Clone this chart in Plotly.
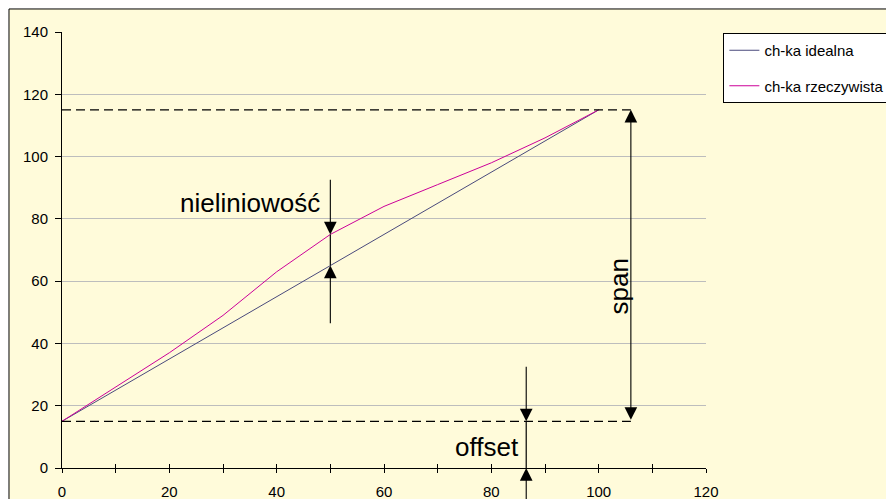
import plotly.graph_objects as go

# ---- data ----
x_vals = [0, 10, 20, 30, 40, 50, 60, 70, 80, 90, 100]
ideal = [15, 25, 35, 45, 55, 65, 75, 85, 95, 105, 115]
real = [15, 26, 37, 49, 63, 75, 84, 91, 98, 106, 115]
series_names = ["ch-ka idealna", "ch-ka rzeczywista"]
x_ticks = [0, 10, 20, 30, 40, 50, 60, 70, 80, 90, 100, 110, 120]
x_ticktext = ["0", "", "20", "", "40", "", "60", "", "80", "", "100", "", "120"]
y_ticks = [0, 20, 40, 60, 80, 100, 120, 140]

offset_val = ideal[0]
span_top = ideal[-1]
span_x = 106
offset_x = 86.5
nonlin_x = 50
nonlin_idx = x_vals.index(nonlin_x)

FONT = "Arial, Liberation Sans, sans-serif"
CREAM = "#FFFBDA"

fig = go.Figure()
fig.add_trace(go.Scatter(x=x_vals, y=ideal, mode="lines", name=series_names[0],
                         line=dict(color="#4A4A7C", width=1), legendgroup="a"))
fig.add_trace(go.Scatter(x=x_vals, y=real, mode="lines", name=series_names[1],
                         line=dict(color="#CC0099", width=1), legendgroup="b"))

# dashed reference lines for offset and span
for yv in (offset_val, span_top):
    fig.add_shape(type="line", xref="x", yref="y", x0=0, x1=span_x, y0=yv, y1=yv,
                  line=dict(color="black", width=1.2, dash="9px,5px"))

# connecting vertical segments
fig.add_shape(type="line", xref="x", yref="y", x0=nonlin_x, x1=nonlin_x,
              y0=ideal[nonlin_idx], y1=real[nonlin_idx], line=dict(color="black", width=1.2))
fig.add_shape(type="line", xref="x", yref="y", x0=offset_x, x1=offset_x,
              y0=0, y1=offset_val, line=dict(color="black", width=1.2))

arrow_kw = dict(xref="x", yref="y", axref="x", ayref="y", text="", showarrow=True,
                arrowhead=2, arrowsize=2.3, arrowwidth=1.1, arrowcolor="black", standoff=0)

# nonlinearity arrows
fig.add_annotation(x=nonlin_x, y=real[nonlin_idx], ax=nonlin_x, ay=93, **arrow_kw)
fig.add_annotation(x=nonlin_x, y=ideal[nonlin_idx], ax=nonlin_x, ay=46, **arrow_kw)
# offset arrows
fig.add_annotation(x=offset_x, y=offset_val, ax=offset_x, ay=33, **arrow_kw)
fig.add_annotation(x=offset_x, y=0, ax=offset_x, ay=-12, **arrow_kw)
# span double arrow
fig.add_annotation(x=span_x, y=span_top, ax=span_x, ay=offset_val, arrowside="end+start",
                   startarrowhead=2, startarrowsize=2.3, **arrow_kw)

# labels
fig.add_annotation(x=35.0, y=85.1, xref="x", yref="y", text="nieliniowość", showarrow=False,
                   font=dict(family=FONT, size=26, color="black"))
fig.add_annotation(x=79.2, y=6.7, xref="x", yref="y", text="offset", showarrow=False,
                   font=dict(family=FONT, size=26, color="black"))
fig.add_annotation(x=103.8, y=58.3, xref="x", yref="y", text="span", showarrow=False,
                   textangle=-90, font=dict(family=FONT, size=26, color="black"))

# outer chart frame (cream area)
fig.add_shape(type="rect", xref="paper", yref="paper", x0=-0.0823, x1=1.6, y0=-0.5, y1=1.0528,
              fillcolor=CREAM, line=dict(color="black", width=1), layer="below")

# page body has an 8px default margin; margins below compensate for it
fig.update_layout(
    width=894, height=499,
    margin=dict(l=54, r=196, t=24, b=39, autoexpand=False),
    paper_bgcolor="white", plot_bgcolor="white",
    font=dict(family=FONT, size=14, color="black"),
    showlegend=True,
    legend=dict(x=1.027, y=0.9977, xanchor="left", yanchor="top",
                bgcolor="white", bordercolor="black", borderwidth=1,
                font=dict(family=FONT, size=15, color="black"),
                tracegroupgap=13),
    xaxis=dict(range=[0, 120], tickvals=x_ticks, ticktext=x_ticktext, automargin=False,
               showgrid=False, zeroline=False, showline=True, linecolor="black", linewidth=1,
               ticks="outside", ticklen=4, tickcolor="black", tickwidth=1,
               ticklabelstandoff=6, tickfont=dict(family=FONT, size=15)),
    xaxis2=dict(range=[0, 120], tickvals=x_ticks, overlaying="x", anchor="y", side="bottom",
                automargin=False,
                showgrid=False, zeroline=False, showline=False, showticklabels=False,
                ticks="inside", ticklen=4, tickcolor="black", tickwidth=1),
    yaxis=dict(range=[0, 140], tickvals=y_ticks, showgrid=True, gridcolor="#BDBDBD", gridwidth=1,
               automargin=False,
               zeroline=False, showline=True, linecolor="black", linewidth=1,
               ticks="outside", ticklen=6, tickcolor="black", tickwidth=1,
               ticklabelstandoff=4, tickfont=dict(family=FONT, size=15)),
)
# dummy invisible trace to activate xaxis2
fig.add_trace(go.Scatter(x=[0], y=[0], xaxis="x2", mode="markers", marker=dict(opacity=0),
                         showlegend=False, hoverinfo="skip"))

fig.write_html("out.html")
